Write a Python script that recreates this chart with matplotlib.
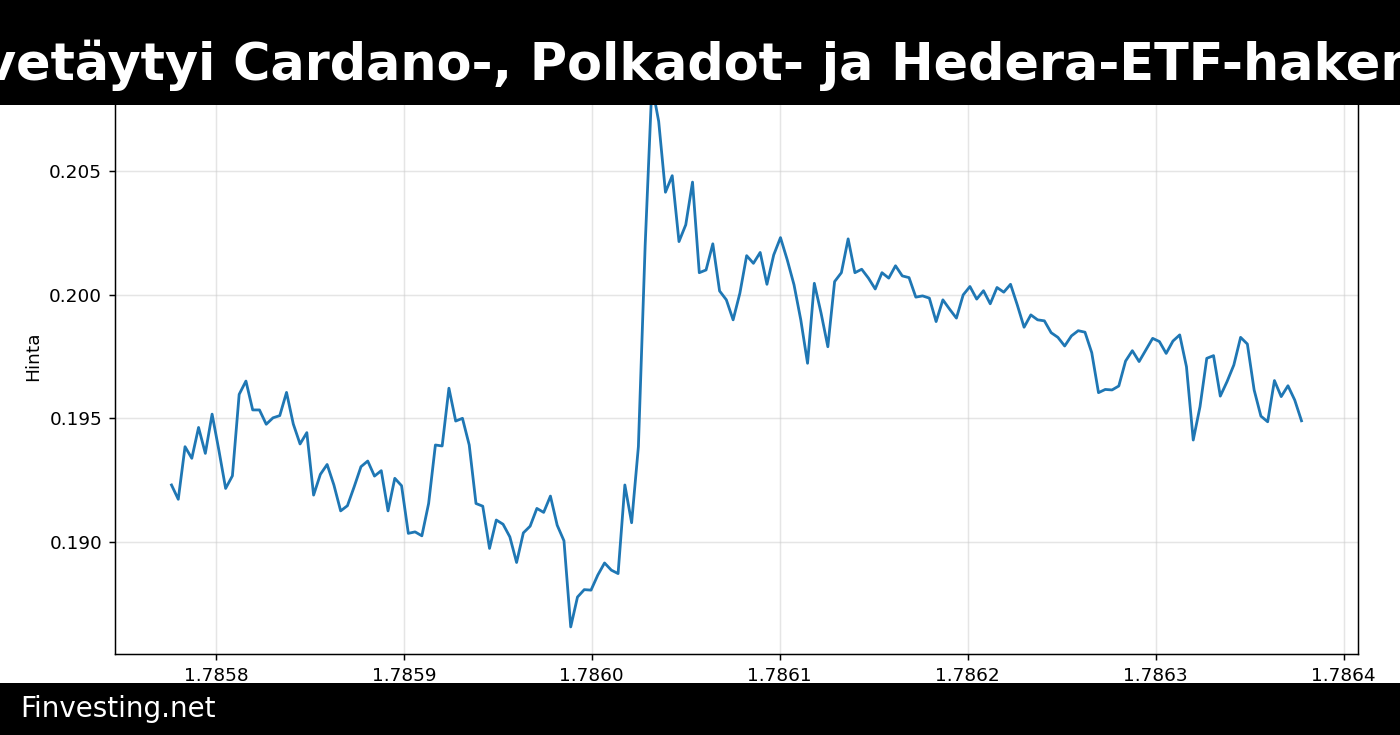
import numpy as np
import matplotlib
matplotlib.use("Agg")
import matplotlib.pyplot as plt
from matplotlib.patches import Rectangle

# ---------------------------------------------------------------------------
# Data: hourly closing prices
# ---------------------------------------------------------------------------

start_ts = 1785776400          # first hourly timestamp (unix seconds)
step_s = 3600                  # one hour between samples

prices = [
    0.19230, 0.19172, 0.19385, 0.19338, 0.19463, 0.19358, 0.19517, 0.19371,
    0.19216, 0.19267, 0.19597, 0.19651, 0.19534, 0.19534, 0.19476, 0.19502,
    0.19511, 0.19605, 0.19477, 0.19396, 0.19442, 0.19189, 0.19273, 0.19313,
    0.19230, 0.19125, 0.19146, 0.19223, 0.19304, 0.19327, 0.19266, 0.19288,
    0.19125, 0.19257, 0.19227, 0.19034, 0.19040, 0.19024, 0.19155, 0.19392,
    0.19388, 0.19622, 0.19489, 0.19500, 0.19392, 0.19155, 0.19144, 0.18973,
    0.19088, 0.19071, 0.19020, 0.18916, 0.19036, 0.19063, 0.19135, 0.19119,
    0.19185, 0.19067, 0.19004, 0.18655, 0.18776, 0.18806, 0.18804, 0.18865,
    0.18914, 0.18885, 0.18871, 0.19230, 0.19077, 0.19385, 0.20200, 0.20850,
    0.20703, 0.20416, 0.20483, 0.20216, 0.20284, 0.20457, 0.20090, 0.20101,
    0.20207, 0.20016, 0.19980, 0.19899, 0.20007, 0.20159, 0.20128, 0.20172,
    0.20043, 0.20162, 0.20232, 0.20142, 0.20041, 0.19899, 0.19723, 0.20047,
    0.19926, 0.19790, 0.20054, 0.20090, 0.20227, 0.20090, 0.20104, 0.20068,
    0.20024, 0.20090, 0.20068, 0.20118, 0.20077, 0.20070, 0.19991, 0.19996,
    0.19987, 0.19892, 0.19980, 0.19942, 0.19906, 0.20000, 0.20034, 0.19983,
    0.20017, 0.19964, 0.20030, 0.20011, 0.20043, 0.19959, 0.19869, 0.19919,
    0.19899, 0.19895, 0.19847, 0.19828, 0.19793, 0.19834, 0.19855, 0.19849,
    0.19766, 0.19604, 0.19617, 0.19615, 0.19631, 0.19732, 0.19774, 0.19730,
    0.19777, 0.19824, 0.19811, 0.19763, 0.19813, 0.19838, 0.19709, 0.19412,
    0.19547, 0.19743, 0.19754, 0.19590, 0.19649, 0.19716, 0.19828, 0.19801,
    0.19615, 0.19509, 0.19486, 0.19653, 0.19588, 0.19632, 0.19574, 0.19490,
]

timestamps = start_ts + step_s * np.arange(len(prices))

title = "vetäytyi Cardano-, Polkadot- ja Hedera-ETF-hakemuksista"
brand = "Finvesting.net"

# ---------------------------------------------------------------------------
# Figure
# ---------------------------------------------------------------------------

W, H = 1400, 735
dpi = 400 / 3
fig = plt.figure(figsize=(W / dpi, H / dpi), dpi=dpi)

left, right, bottom, top = 115, 1358, 654, 58
ax = fig.add_axes([left / W, 1 - bottom / H, (right - left) / W, (bottom - top) / H])

ax.plot(timestamps, prices, color="#1f77b4", linewidth=1.5)
ax.grid(True, color="#cccccc", alpha=0.5, linewidth=0.8)
ax.set_ylabel("Hinta")
ax.yaxis.set_major_locator(matplotlib.ticker.MultipleLocator(0.005))
ax.yaxis.set_major_formatter(matplotlib.ticker.FormatStrFormatter("%.3f"))

# black header / footer bands on top of the chart
fig.add_artist(Rectangle((0, 1 - 105 / H), 1, 105 / H, transform=fig.transFigure,
                         facecolor="black", edgecolor="none", zorder=10))
fig.add_artist(Rectangle((0, 0), 1, 52 / H, transform=fig.transFigure,
                         facecolor="black", edgecolor="none", zorder=10))

# title is wider than the figure, so it runs off both edges
fig.text(-17 / W, 1 - 80 / H, title, color="white", fontsize=27.5,
         fontweight="bold", ha="left", va="baseline", zorder=11)
fig.text(20 / W, 18 / H, brand, color="white", fontsize=15,
         ha="left", va="baseline", zorder=11)

fig.savefig("out.png", dpi=dpi)
